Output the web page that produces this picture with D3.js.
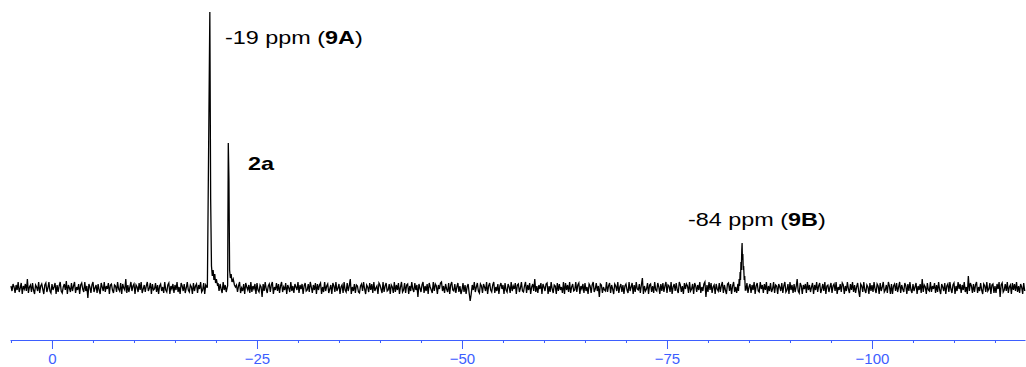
<!DOCTYPE html>
<html>
<head>
<meta charset="utf-8">
<script src="https://cdn.jsdelivr.net/npm/d3@7"></script>
<style>
  body { margin: 0; background: #fff; }
  svg { display: block; }
</style>
</head>
<body>
<div id="spectrum"></div>
<script>
// 31P spectrum, ppm on x (reversed), intensity in arbitrary units
var ppmStart = 5.0
var ppmStep = 0.125
var baselineNoise = [
  2,-3,4,1,-5,3,-2,6,-4,0,5,-6,2,-1,4,-3,9,-5,1,3,
  -4,5,-2,-6,3,1,-3,6,-5,2,4,-1,-6,3,5,-4,0,6,-3,-5,
  4,-2,1,5,-6,3,-4,2,6,-3,-5,1,4,-2,7,-6,3,0,-4,5,
  -3,2,6,-5,1,-2,4,-6,3,5,-1,-4,6,-3,2,-10,4,1,-5,3,
  6,-4,0,3,-5,4,-2,-6,5,1,-3,6,-4,2,-1,5,-6,3,4,-2,
  -5,3,2,-4,6,-1,-3,5,-6,4,0,-2,9,-5,3,-4,1,6,-3,2,
  4,-6,3,1,-4,5,-2,6,-5,-1,3,-4,2,6,-3,0,5,-6,4,-2,
  -1,5,-4,3,-6,2,4,-3,1,-5,6,-2,-4,3,5,-6,2,-1,4,-5,
  3,-2,6,-4,1,-6,5,2,-3,4,-5,0,6,-2,-4,3,1,-6,5,-3,
  2,4,-5,3,-1,6,-4,-2,5,-6,3,1,-3,4,-5,6,-2,0,3,-4,
  -6,2,5,-3,4,-1,-5,6,-2,3,-4,1,5,-6,2,-3,4,10,-5,1,
  3,-4,2,6,-5,0,-3,4,-6,5,1,-2,3,-5,6,-4,2,-1,4,-6,
  5,-2,-4,3,1,-9,4,-3,6,-1,-5,2,4,-4,3,6,-6,1,-2,5,
  -3,4,-5,2,6,-4,1,-2,5,-6,3,0,-4,6,-3,2,-5,4,1,-2,
  6,-5,3,-1,4,-6,2,5,-3,-2,4,-4,6,1,-5,3,-2,5,-6,4,
  -2,3,5,-6,1,-4,6,-3,2,4,-5,-1,3,-6,5,2,-4,6,-3,0,
  4,-6,1,3,-5,6,-2,-4,5,-3,2,9,-6,1,-3,4,-5,3,2,-4,
  -5,2,4,-3,6,-1,-6,3,1,-4,5,-2,4,-5,6,-3,0,2,-6,5,
  3,-1,-5,6,-4,2,5,-3,-2,4,-6,3,1,-5,6,-4,3,-2,5,-6,
  1,6,-4,-2,5,-5,3,4,-6,2,-3,6,-1,-4,5,-2,3,-9,4,0,
  -4,3,6,-5,2,-3,4,-6,5,1,-2,-5,6,-3,4,2,-6,3,-1,5,
  6,-3,2,-5,4,-1,-4,5,-6,3,6,-2,-3,4,-5,1,5,-4,2,-6,
  -2,5,-4,3,-6,1,4,-5,-13,-6,3,-2,6,-4,1,5,-3,-5,4,2,
  -5,4,1,-3,6,-6,2,5,-2,-4,3,6,-5,1,-3,4,-6,2,5,-1,
  3,-6,5,-2,-4,4,1,-5,6,-3,2,-1,5,-6,3,4,-4,0,6,-3,
  -4,2,6,-5,3,-2,5,-6,1,4,-3,9,-4,2,-5,3,-1,5,-6,4,
  1,-3,4,5,-6,2,-4,6,-1,-5,3,2,-6,5,-3,4,-2,1,-5,6,
  -6,5,-2,3,-4,6,-5,1,4,-3,-2,6,-4,3,5,-6,2,-1,4,-5,
  5,-3,1,-6,4,2,-5,3,6,-4,-1,5,-3,2,-9,4,3,-5,1,-2,
  -3,6,-4,2,5,-5,3,-1,-6,4,2,-3,6,-5,1,4,-4,3,-6,2,
  4,-2,-5,6,-3,1,5,-6,3,-4,6,-1,-2,4,-5,3,10,-6,2,-3,
  -1,5,-6,3,4,-4,2,-5,6,-2,-3,5,1,-6,4,-3,5,-4,2,6,
  -5,3,2,-4,6,-6,1,4,-3,5,-2,-5,6,3,-4,2,-6,5,-1,4,
  2,-5,6,-3,-1,4,-6,5,2,-4,3,-2,6,-5,1,-3,4,6,-9,3,
  -4,6,-2,5,-5,1,3,-6,4,-1,-3,5,-4,2,6,-5,3,-2,-6,4,
  5,-3,4,-6,2,6,-4,1,-5,3,-2,4,-6,5,3,-4,6,-2,5,-5,
  1,4,-5,3,-2,6,-6,2,5,-3,-4,6,-1,3,-5,4,-2,6,-6,2,
  -3,5,-4,-1,6,-5,3,2,-6,4,1,-3,5,-5,2,6,-4,-2,4,-6,
  6,-2,3,-5,4,-4,1,9,-3,-5,5,2,-6,3,-1,4,-5,6,-2,3,
  -4,1,5,-6,3,-2,6,-4,2,5,-5,-1,4,-3,6,-6,2,3,-4,1,
  5,-5,2,4,-3,6,-6,1,-2,4,-4,5,3,-6,2,-3,6,-1,-5,4,
  -2,6,-4,3,-5,1,5,-3,-9,4,2,-4,6,-2,-5,3,1,-6,5,-3,
  3,-4,6,-1,-5,4,2,-6,5,-3,1,6,-4,-2,3,-5,6,2,-6,4,
  -6,2,4,-3,5,-4,1,6,-5,3,-1,-4,5,2,-6,4,-3,6,-2,-5,
  4,-3,1,5,-6,2,-2,4,-5,9,-4,3,1,-6,5,-2,-3,6,-4,2,
  -1,5,-5,3,-4,6,-2,-6,4,1,-3,5,-6,2,4,-4,6,-1,-5,3,
  5,-6,2,-3,6,-1,4,-5,3,-2,6,-4,1,-6,12,-3,5,2,-5,4,
  -4,3,6,-5,1,-3,5,-2,-6,4,2,-4,6,-3,-1,5,-6,3,4,-5,
  2,-5,4,-1,6,-9,3,5,-4,-2,4,-3,6,-5,1,3,-6,5,-2,4,
  -3,6,-4,2,-5,4,1,-6,5,-3,3,-1,-4,6,-5,2,4,-6,3,-2
]

// peak points [ppm, intensity]
var peak9A = [[-18.95, 1], [-19.1, 138], [-19.25, 276], [-19.35, 89], [-19.45, 22], [-19.55, 12],
              [-19.65, 18], [-19.75, 8], [-19.85, 14], [-19.95, 5], [-20.05, 9], [-20.2, 2]]
var peak2a = [[-21.42, 2], [-21.5, 145], [-21.58, 108], [-21.66, 18], [-21.75, 10], [-21.85, 14],
              [-21.95, 6], [-22.1, 9], [-22.25, 3]]
var peak9B = [[-83.65, 4], [-83.72, -3], [-83.8, 9], [-83.86, 2], [-83.92, 16], [-83.97, 8],
              [-84.02, 26], [-84.07, 18], [-84.12, 38], [-84.16, 45], [-84.2, 28], [-84.25, 34],
              [-84.3, 18], [-84.35, 22], [-84.42, 8], [-84.48, 12], [-84.55, -2]]

var majorTicks = [0, -25, -50, -75, -100]
var minorTicks = [5, 0, -5, -10, -15, -20, -25, -30, -35, -40, -45, -50, -55, -60, -65, -70,
                  -75, -80, -85, -90, -95, -100, -105, -110, -115]

var labels = [
  {parts: [['-19 ppm (', 'normal'], ['9A', 'bold'], [')', 'normal']], x: 225, y: 44},
  {parts: [['2a', 'bold']], x: 248, y: 170},
  {parts: [['-84 ppm (', 'normal'], ['9B', 'bold'], [')', 'normal']], x: 688, y: 226}
]

var width = 1026, height = 367
var svg = d3.select('#spectrum')
    .append('svg')
    .attr('width', width)
    .attr('height', height)

var x = d3.scaleLinear().domain([5.12, -118.66]).range([10, 1025])
var y = d3.scaleLinear().domain([0, 276]).range([288, 12])

// merge noise + peaks, dropping noise inside the peak windows
var peaks = [peak9A, peak2a, peak9B]
var points = []
baselineNoise.forEach(function(v, i){
    var p = ppmStart - i * ppmStep
    if (p < -118.66) return
    var inside = peaks.some(function(pk){ return p <= pk[0][0] && p >= pk[pk.length - 1][0] })
    if (!inside) points.push([p, v])
})
peaks.forEach(function(pk){ points = points.concat(pk) })
points.sort(function(a, b){ return b[0] - a[0] })

svg.append('path')
    .datum(points)
    .attr('fill', 'none')
    .attr('stroke', '#000')
    .attr('stroke-width', 1.3)
    .attr('d', d3.line()
        .x(function(d){ return x(d[0]) })
        .y(function(d){ return y(d[1]) }))

// axis
var axisColor = '#3d5eff'
var minorAxis = svg.append('g')
    .attr('transform', 'translate(0,340)')
    .call(d3.axisBottom(x).tickValues(minorTicks).tickSize(3).tickSizeOuter(0).tickFormat(''))
var majorAxis = svg.append('g')
    .attr('transform', 'translate(0,340)')
    .call(d3.axisBottom(x).tickValues(majorTicks).tickSize(9).tickSizeOuter(0).tickPadding(4))
majorAxis.select('.domain').remove()
svg.selectAll('.domain, .tick line').attr('stroke', axisColor)
majorAxis.selectAll('.tick text')
    .attr('fill', axisColor)
    .style('font-family', 'Liberation Sans, Arial, sans-serif')
    .style('font-size', '15px')

// peak labels, stretched horizontally like the source figure
svg.selectAll('text.label')
    .data(labels)
    .enter()
    .append('text')
    .attr('class', 'label')
    .attr('transform', function(d){ return 'translate(' + d.x + ',' + d.y + ') scale(1.3,1)' })
    .style('font-family', 'Liberation Sans, Arial, sans-serif')
    .style('font-size', '18px')
    .attr('fill', '#000')
    .each(function(d){
        var t = d3.select(this)
        d.parts.forEach(function(p){
            t.append('tspan').text(p[0]).style('font-weight', p[1])
        })
    })
</script>
</body>
</html>
